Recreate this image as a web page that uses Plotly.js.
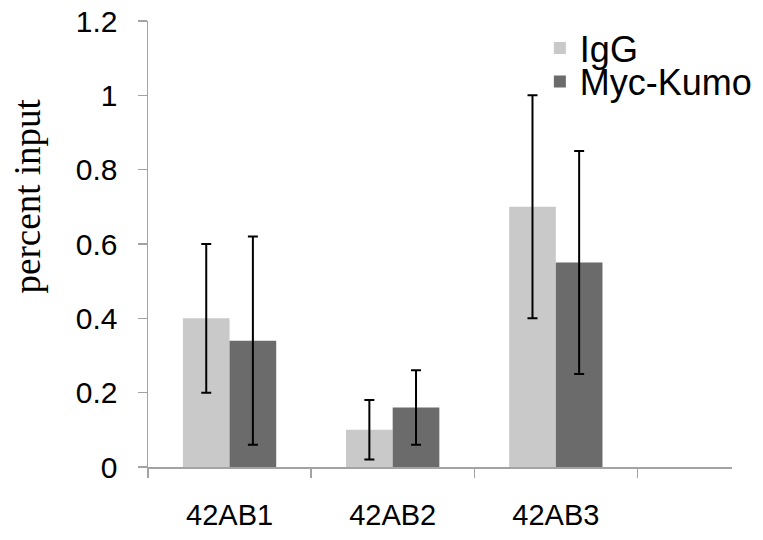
<!DOCTYPE html>
<html>
<head>
<meta charset="utf-8">
<script src="https://cdn.plot.ly/plotly-3.0.1.min.js"></script>
<style>html,body{margin:0;padding:0;background:#fff;}#chart{width:763px;height:540px;}</style>
</head>
<body>
<div id="chart"></div>
<script>
var categories = ['42AB1', '42AB2', '42AB3'];
var seriesNames = ['IgG', 'Myc-Kumo'];
var iggValues = [0.4, 0.1, 0.7];
var iggErrors = [0.2, 0.08, 0.3];
var mycValues = [0.34, 0.16, 0.55];
var mycErrors = [0.28, 0.1, 0.3];
var yTickVals = [0, 0.2, 0.4, 0.6, 0.8, 1, 1.2];
var yTitle = 'percent input';

var axisColor = '#a3a3a3';
var errStyle = function (arr) {
  return {type: 'data', array: arr, visible: true, color: '#000', thickness: 2, width: 5};
};

var traces = [
  {type: 'bar', name: seriesNames[0], x: categories, y: iggValues,
   error_y: errStyle(iggErrors), marker: {color: '#c9c9c9', line: {width: 0}}, legend: 'legend'},
  {type: 'bar', name: seriesNames[1], x: categories, y: mycValues,
   error_y: errStyle(mycErrors), marker: {color: '#6b6b6b', line: {width: 0}}, legend: 'legend2'}
];

var legendBase = {
  xref: 'paper', yref: 'paper', x: 0.671, xanchor: 'left', yanchor: 'middle',
  bgcolor: 'rgba(0,0,0,0)', borderwidth: 0,
  font: {family: 'Liberation Sans, Arial, sans-serif', size: 36, color: '#000'}
};

var layout = {
  width: 763, height: 540,
  margin: {l: 148, r: 31, t: 21, b: 73, autoexpand: false},
  paper_bgcolor: '#fff', plot_bgcolor: '#fff',
  barmode: 'group', bargap: 0.428, bargroupgap: 0,
  showlegend: true,
  legend: Object.assign({}, legendBase, {y: (467 - 48) / 446}),
  legend2: Object.assign({}, legendBase, {y: (467 - 81.5) / 446}),
  xaxis: {
    type: 'category', range: [-0.5, 3.08], tickson: 'boundaries',
    showline: true, linecolor: axisColor, linewidth: 1.5,
    ticks: 'outside', ticklen: 9, tickcolor: axisColor, tickwidth: 1.5,
    showgrid: false, zeroline: false,
    tickfont: {family: 'Liberation Sans, Arial, sans-serif', size: 29, color: '#000'},
    ticklabelstandoff: 22
  },
  yaxis: {
    range: [0, 1.2], tickvals: yTickVals,
    showline: true, linecolor: axisColor, linewidth: 1.5,
    ticks: 'outside', ticklen: 9, tickcolor: axisColor, tickwidth: 1.5,
    showgrid: false, zeroline: false,
    tickfont: {family: 'Liberation Sans, Arial, sans-serif', size: 30, color: '#000'},
    ticklabelstandoff: 14
  },
  annotations: [{
    text: yTitle, textangle: -90, showarrow: false,
    xref: 'paper', yref: 'paper', x: -0.207, y: 0.607, xanchor: 'center', yanchor: 'middle',
    font: {family: 'Liberation Serif, Times New Roman, serif', size: 37, color: '#000'}
  }]
};

Plotly.newPlot('chart', traces, layout, {displayModeBar: false, staticPlot: true});
</script>
</body>
</html>
